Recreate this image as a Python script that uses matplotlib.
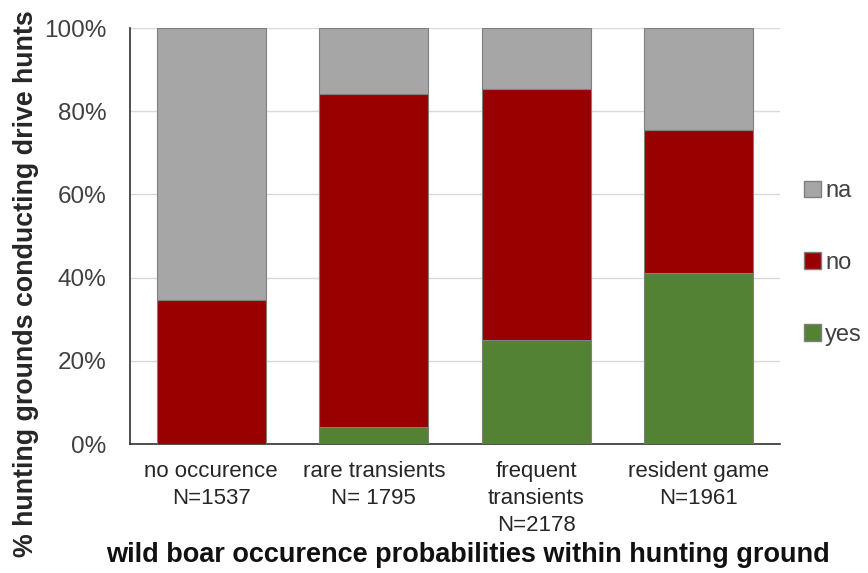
import numpy as np
import matplotlib.pyplot as plt
from matplotlib.patches import Patch

categories = ['no occurence\nN=1537', 'rare transients\nN= 1795',
              'frequent\ntransients\nN=2178', 'resident game\nN=1961']
yes = [0.0, 4.1, 25.0, 41.1]
no = [34.6, 80.0, 60.3, 34.4]
na = [100 - y - n for y, n in zip(yes, no)]

c_yes = '#548235'
c_no = '#990000'
c_na = '#a6a6a6'

plt.rcParams['font.family'] = ['Liberation Sans', 'DejaVu Sans']

fig = plt.figure(figsize=(8.68, 5.73), dpi=100)
ax = fig.add_axes([0.1498, 0.2251, 0.7488, 0.726])

x = np.arange(len(categories))
w = 0.67
ax.bar(x, yes, w, color=c_yes, edgecolor='#7f7f7f', linewidth=0.8, zorder=3)
ax.bar(x, no, w, bottom=yes, color=c_no, edgecolor='#7f7f7f', linewidth=0.8, zorder=3)
ax.bar(x, na, w, bottom=np.add(yes, no), color=c_na, edgecolor='#7f7f7f', linewidth=0.8, zorder=3)

ax.set_xlim(-0.5, len(categories) - 0.5)
ax.set_ylim(0, 100)
ax.set_yticks(np.arange(0, 101, 20))
ax.set_yticklabels(['{}%'.format(v) for v in range(0, 101, 20)],
                   fontsize=17.5, color='#404040')
ax.yaxis.grid(True, color='#d9d9d9', linewidth=1, zorder=0)
ax.set_xticks(x)
ax.set_xticklabels(categories, fontsize=16, linespacing=1.4, color='#262626')
ax.tick_params(length=0)
ax.tick_params(axis='x', pad=12)
ax.tick_params(axis='y', pad=17)

for s in ['top', 'right']:
    ax.spines[s].set_visible(False)
ax.spines['left'].set_color('#303030')
ax.spines['bottom'].set_color('#303030')
ax.spines['left'].set_linewidth(1.2)
ax.spines['bottom'].set_linewidth(1.2)

fig.text(0.03, 0.505, '% hunting grounds conducting drive hunts', rotation=90,
         ha='center', va='center', fontsize=19.3, fontweight='bold',
         color='#262626')
fig.text(0.539, 0.031, 'wild boar occurence probabilities within hunting ground',
         ha='center', va='center', fontsize=19.5, fontweight='bold',
         color='#111111')

handles = [Patch(facecolor=c_na, edgecolor='#7f7f7f', label='na'),
           Patch(facecolor=c_no, edgecolor='#7f7f7f', label='no'),
           Patch(facecolor=c_yes, edgecolor='#7f7f7f', label='yes')]
fig.legend(handles=handles, loc='center left', bbox_to_anchor=(0.902, 0.541),
           frameon=False, fontsize=17, handlelength=0.7, handleheight=0.7,
           handletextpad=0.2, labelspacing=2.1, labelcolor='#404040')

fig.savefig('out.png', dpi=100)
